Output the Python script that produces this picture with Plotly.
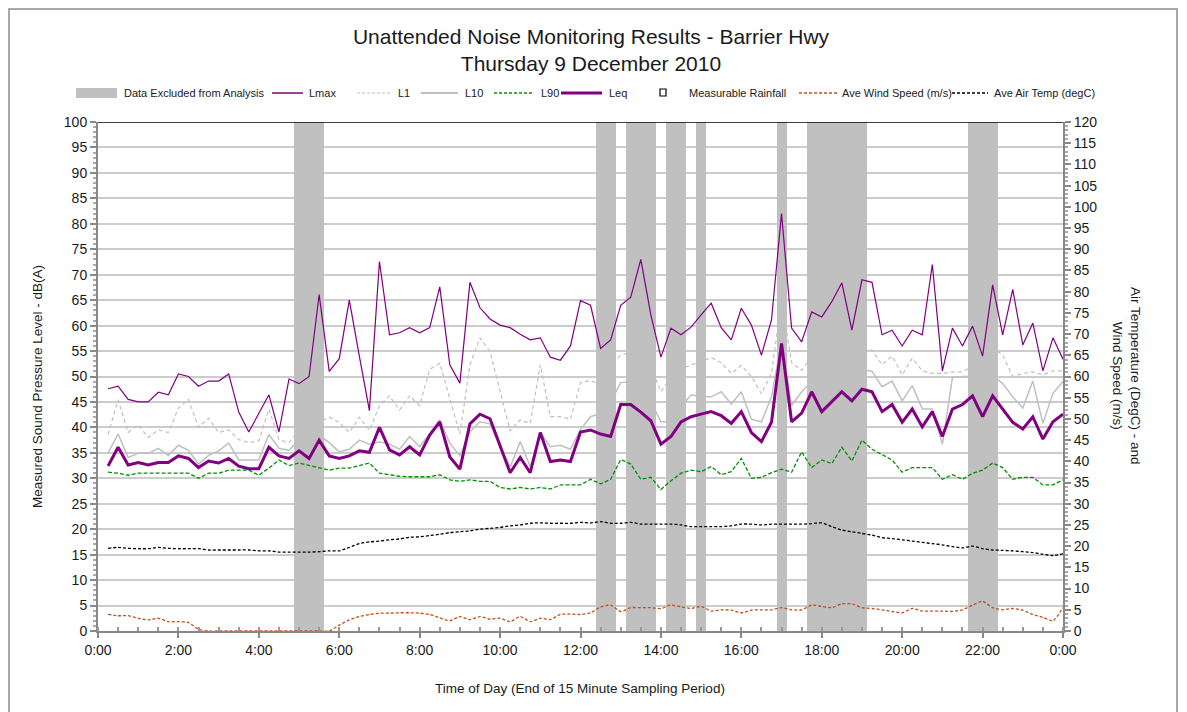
import plotly.graph_objects as go

# ---------------- data ----------------
sample_end_minutes = list(range(15, 24 * 60 + 1, 15))   # 96 x 15-min samples (end of period)

lmax = [47.6, 48.1, 45.5, 45.0, 45.0, 46.9, 46.4, 50.5, 50.0, 48.1,
        49.1, 49.1, 50.5, 43.0, 39.1, 42.8, 46.4, 39.1, 49.5, 48.6,
        50.0, 66.1, 51.0, 53.5, 65.0, 54.0, 43.3, 72.6, 58.2, 58.6,
        59.6, 58.6, 59.6, 67.6, 52.3, 48.7, 68.5, 63.5, 61.3, 60.1,
        59.6, 58.3, 57.2, 57.6, 53.8, 53.2, 56.0, 64.9, 64.0, 55.5,
        57.2, 64.0, 65.6, 73.0, 62.1, 53.8, 59.5, 58.2, 59.7, 62.1,
        64.4, 59.6, 57.2, 63.4, 60.1, 54.2, 61.1, 82.0, 59.5, 56.8,
        62.7, 61.7, 64.7, 68.4, 59.1, 69.0, 68.5, 58.2, 59.1, 56.0,
        59.1, 58.2, 72.0, 51.1, 59.5, 56.0, 59.9, 54.0, 68.0, 58.2,
        67.1, 56.2, 60.5, 51.1, 57.6, 53.4]

l1 = [38.6, 45.4, 39.0, 40.5, 38.0, 39.5, 39.0, 43.8, 45.5, 40.0,
      41.8, 39.0, 39.5, 37.6, 37.0, 37.4, 43.6, 37.6, 37.0, 39.5,
      40.0, 41.0, 42.0, 41.0, 39.0, 42.0, 39.4, 44.3, 46.2, 43.4,
      46.2, 44.3, 51.4, 52.6, 45.4, 38.7, 52.3, 57.6, 54.9, 47.0,
      39.3, 41.5, 40.8, 52.3, 42.1, 42.1, 41.6, 48.8, 49.2, 48.3,
      52.0, 54.2, 54.7, 56.0, 52.0, 47.0, 50.0, 51.5, 52.3, 53.0,
      53.7, 52.7, 50.6, 52.2, 50.0, 46.6, 50.6, 65.0, 52.7, 51.2,
      54.0, 53.0, 55.0, 56.5, 54.5, 55.5, 55.2, 52.3, 54.0, 50.3,
      53.6, 51.1, 50.6, 50.6, 50.9, 50.9, 52.0, 50.5, 55.7, 54.2,
      50.0, 50.6, 50.9, 50.3, 51.1, 51.1]

l10 = [35.0, 38.7, 34.1, 34.9, 34.9, 35.9, 34.5, 36.5, 35.5, 32.8,
       34.5, 35.4, 36.9, 33.6, 33.6, 33.6, 38.6, 35.9, 35.5, 37.6,
       36.0, 38.5, 37.0, 35.2, 35.7, 37.5, 36.7, 37.2, 36.7, 35.7,
       38.2, 36.2, 38.8, 41.5, 36.9, 34.4, 39.1, 41.1, 40.7, 36.2,
       32.2, 37.2, 32.3, 39.0, 36.2, 36.5, 35.7, 39.6, 42.1, 42.8,
       45.0, 48.8, 49.0, 47.0, 45.0, 41.1, 41.1, 44.0, 46.4, 46.0,
       46.0, 47.0, 44.6, 47.0, 41.6, 41.1, 46.0, 57.0, 44.3, 47.0,
       49.0, 48.0, 49.5, 50.5, 49.5, 51.4, 51.0, 48.0, 49.1, 45.2,
       48.2, 43.6, 43.6, 36.7, 49.8, 50.0, 50.0, 48.0, 50.3, 48.6,
       46.0, 43.8, 49.1, 40.8, 46.7, 49.0]

l90 = [31.2, 31.0, 30.6, 31.0, 31.0, 31.0, 31.0, 31.0, 31.0, 30.0,
       31.0, 31.0, 31.6, 31.6, 31.6, 30.6, 32.0, 33.6, 32.5, 33.0,
       32.5, 32.0, 31.6, 32.0, 32.0, 32.5, 33.0, 31.0, 30.7, 30.4,
       30.3, 30.3, 30.3, 30.7, 29.7, 29.4, 29.7, 29.4, 29.4, 28.2,
       27.9, 28.2, 27.9, 28.2, 27.9, 28.7, 28.7, 28.7, 29.8, 28.9,
       29.8, 33.7, 32.8, 29.8, 30.2, 27.8, 29.5, 31.0, 31.6, 31.3,
       32.3, 30.7, 31.3, 33.9, 30.0, 30.2, 31.1, 31.8, 31.2, 35.2,
       32.1, 33.6, 32.9, 36.1, 33.4, 37.5, 35.7, 34.7, 33.6, 31.2,
       32.1, 32.1, 32.1, 29.8, 30.7, 29.8, 31.0, 31.6, 33.0, 32.1,
       29.8, 30.2, 30.2, 28.7, 28.7, 29.7]

leq = [32.4, 36.1, 32.6, 33.1, 32.6, 33.1, 33.1, 34.4, 33.9, 32.1,
       33.4, 33.0, 33.9, 32.4, 31.9, 31.9, 36.1, 34.4, 33.9, 35.4,
       33.9, 37.5, 34.4, 33.9, 34.4, 35.4, 35.1, 40.0, 35.6, 34.6,
       36.2, 34.6, 38.5, 41.1, 34.2, 31.8, 40.7, 42.6, 41.7, 36.4,
       31.1, 34.1, 31.1, 39.0, 33.3, 33.6, 33.3, 39.1, 39.5, 38.7,
       38.2, 44.5, 44.5, 43.0, 41.3, 36.7, 38.2, 41.1, 42.1, 42.6,
       43.1, 42.3, 40.8, 43.1, 39.0, 37.2, 41.0, 56.5, 41.1, 42.8,
       47.0, 43.1, 45.0, 47.0, 45.2, 47.5, 47.0, 43.1, 44.5, 41.0,
       43.6, 40.1, 43.1, 38.2, 43.6, 44.5, 46.2, 42.1, 46.2, 43.6,
       41.0, 39.7, 42.1, 37.7, 41.1, 42.6]

wind_speed = [3.9, 3.6, 3.6, 3.0, 2.6, 3.0, 2.2, 2.2, 2.0, 0.4,
              0.0, 0.0, 0.0, 0.0, 0.0, 0.0, 0.0, 0.0, 0.0, 0.0,
              0.0, 0.0, 0.0, 1.4, 2.6, 3.4, 3.9, 4.2, 4.2, 4.3,
              4.3, 4.2, 3.9, 3.1, 2.4, 3.4, 2.7, 3.4, 2.8, 3.0,
              2.2, 3.4, 2.2, 3.0, 2.7, 3.9, 4.0, 3.9, 4.3, 5.7,
              6.1, 4.6, 5.5, 5.5, 5.5, 5.3, 6.1, 5.7, 5.3, 5.8,
              4.7, 5.0, 4.9, 4.3, 4.9, 5.0, 5.0, 5.5, 5.0, 5.0,
              6.1, 5.8, 5.5, 6.4, 6.4, 5.5, 5.3, 5.0, 4.6, 4.3,
              5.3, 4.7, 4.7, 4.7, 4.6, 5.0, 6.1, 7.0, 5.5, 5.0,
              5.3, 4.9, 3.9, 3.2, 2.4, 5.5]

air_temp = [19.5, 19.7, 19.5, 19.4, 19.4, 19.7, 19.5, 19.4, 19.4, 19.4,
            19.1, 19.1, 19.1, 19.1, 19.1, 18.9, 18.9, 18.6, 18.6, 18.6,
            18.6, 18.7, 18.9, 18.9, 19.7, 20.6, 21.0, 21.2, 21.5, 21.7,
            22.1, 22.2, 22.5, 22.8, 23.2, 23.4, 23.6, 24.0, 24.2, 24.4,
            24.8, 25.0, 25.4, 25.5, 25.4, 25.4, 25.4, 25.6, 25.5, 25.8,
            25.4, 25.4, 25.6, 25.2, 25.2, 25.2, 25.2, 25.0, 24.6, 24.6,
            24.6, 24.6, 24.8, 25.2, 25.2, 25.0, 25.2, 25.2, 25.2, 25.2,
            25.3, 25.5, 24.6, 23.8, 23.4, 23.0, 22.6, 22.0, 21.8, 21.5,
            21.2, 20.9, 20.6, 20.3, 19.9, 19.6, 20.0, 19.4, 19.1, 19.0,
            18.9, 18.7, 18.5, 18.1, 17.8, 18.2]

rainfall_samples = []   # no measurable rainfall recorded

excluded_samples = ["5:00", "5:15", "5:30",
                    "12:30", "12:45",
                    "13:15", "13:30", "13:45",
                    "14:15", "14:30",
                    "15:00",
                    "17:00",
                    "17:45", "18:00", "18:15", "18:30", "18:45", "19:00",
                    "21:45", "22:00", "22:15"]

x_tick_hours = [0, 2, 4, 6, 8, 10, 12, 14, 16, 18, 20, 22, 24]
x_tick_labels = ["0:00", "2:00", "4:00", "6:00", "8:00", "10:00", "12:00",
                 "14:00", "16:00", "18:00", "20:00", "22:00", "0:00"]

title_text = "Unattended Noise Monitoring Results - Barrier Hwy<br>Thursday 9 December 2010"
y_title = "Measured Sound Pressure Level - dB(A)"
y2_title = "Air Temperature (DegC) - and<br>Wind Speed (m/s)"
x_title = "Time of Day (End of 15 Minute Sampling Period)"

# ---------------- helpers ----------------
x_hours = [m / 60.0 for m in sample_end_minutes]


def hhmm_to_hours(s):
    h, m = s.split(":")
    return int(h) + int(m) / 60.0


excl_hours = [hhmm_to_hours(s) for s in excluded_samples]

W, H = 1187, 712
OFF = 8                      # page offset of the figure inside the browser window
L, T = 90, 114
PW, PH = 965, 509
R = W - L - PW
B = H - T - PH


def px(xp):
    """screen x pixel -> paper x"""
    return (xp - OFF - L) / PW


def py(yp):
    """screen y pixel -> paper y"""
    return (T + PH - (yp - OFF)) / PH


FONT = "Liberation Sans, Arial, sans-serif"
PURPLE = "#800080"
GREY = "#c0c0c0"
GREEN = "#009000"
ORANGE = "#c0501a"

fig = go.Figure()

# excluded periods (grey columns)
fig.add_trace(go.Bar(x=excl_hours, y=[100] * len(excl_hours), width=0.25,
                     marker=dict(color=GREY, line=dict(width=0)),
                     name="Data Excluded from Analysis", showlegend=False,
                     hoverinfo="skip"))

fig.add_trace(go.Scatter(x=x_hours, y=l90, mode="lines", name="L90",
                         line=dict(color=GREEN, width=1.3, dash="4px,2px"), showlegend=False))
fig.add_trace(go.Scatter(x=x_hours, y=l10, mode="lines", name="L10",
                         line=dict(color=GREY, width=1.5), showlegend=False))
fig.add_trace(go.Scatter(x=x_hours, y=l1, mode="lines", name="L1",
                         line=dict(color=GREY, width=1.2, dash="4px,3px"), showlegend=False))
fig.add_trace(go.Scatter(x=x_hours, y=lmax, mode="lines", name="Lmax",
                         line=dict(color=PURPLE, width=1.2), showlegend=False))
fig.add_trace(go.Scatter(x=x_hours, y=leq, mode="lines", name="Leq",
                         line=dict(color=PURPLE, width=3), showlegend=False))
fig.add_trace(go.Scatter(x=[hhmm_to_hours(s) for s in rainfall_samples],
                         y=[0] * len(rainfall_samples), mode="markers",
                         name="Measurable Rainfall", yaxis="y2",
                         marker=dict(symbol="square-open", color="black", size=6),
                         showlegend=False))
fig.add_trace(go.Scatter(x=x_hours, y=wind_speed, mode="lines", name="Ave Wind Speed (m/s)",
                         yaxis="y2", line=dict(color=ORANGE, width=1.3, dash="3px,2px",
                                               shape="spline", smoothing=0.6),
                         showlegend=False))
fig.add_trace(go.Scatter(x=x_hours, y=air_temp, mode="lines", name="Ave Air Temp (degC)",
                         yaxis="y2", line=dict(color="black", width=1.3, dash="3px,2px",
                                               shape="spline", smoothing=0.6),
                         showlegend=False))

fig.update_layout(
    width=W, height=H,
    margin=dict(l=L, r=R, t=T, b=B, autoexpand=False),
    paper_bgcolor="white", plot_bgcolor="white",
    font=dict(family=FONT, color="#1a1a1a"),
    showlegend=False,
    bargap=0,
    title=dict(text=title_text, x=px(591), xanchor="center", xref="paper",
               y=1 - (43.5 - OFF) / H, yanchor="middle", yref="container",
               font=dict(family=FONT, size=21, color="#1a1a1a")),
    xaxis=dict(range=[0, 24], tickmode="array", tickvals=x_tick_hours, ticktext=x_tick_labels,
               showgrid=False, zeroline=False, showline=True, linecolor="#888888", linewidth=2,
               ticks="outside", ticklen=5, tickcolor="#888888", tickwidth=1.5,
               tickfont=dict(size=14, family=FONT, color="#1a1a1a"),
               minor=dict(dtick=0.5, ticks="inside", ticklen=4, tickcolor="#999999", showgrid=False)),
    yaxis=dict(range=[0, 100], dtick=5, showgrid=True, gridcolor="#cccccc", gridwidth=1.5,
               zeroline=False, showline=True, linecolor="#888888", linewidth=2,
               ticks="outside", ticklen=6, tickcolor="#888888", tickwidth=1.5,
               tickfont=dict(size=14, family=FONT, color="#1a1a1a"),
               minor=dict(dtick=1, ticks="outside", ticklen=3, tickcolor="#aaaaaa", showgrid=False)),
    yaxis2=dict(range=[0, 120], dtick=5, overlaying="y", side="right", showgrid=False,
                zeroline=False, showline=True, linecolor="#888888", linewidth=2,
                ticks="outside", ticklen=6, tickcolor="#888888", tickwidth=1.5,
                tickfont=dict(size=14, family=FONT, color="#1a1a1a"),
                minor=dict(dtick=1, ticks="outside", ticklen=3, tickcolor="#aaaaaa", showgrid=False)),
)

shapes = []
# top border line of plot at 100
shapes.append(dict(type="line", xref="paper", yref="y", x0=0, x1=1, y0=100, y1=100,
                   line=dict(color="black", width=1.5)))
# outer chart border
shapes.append(dict(type="rect", xref="paper", yref="paper",
                   x0=px(OFF + 1), x1=px(1177), y0=py(OFF + 1), y1=py(740),
                   line=dict(color="#8c8c8c", width=1.5), fillcolor="rgba(0,0,0,0)", layer="below"))

annotations = []
# axis titles
annotations.append(dict(text=y_title, xref="paper", yref="paper", x=px(37), y=py(387),
                        textangle=-90, showarrow=False, font=dict(size=13.5, family=FONT, color="#1a1a1a"),
                        xanchor="center", yanchor="middle"))
annotations.append(dict(text=y2_title, xref="paper", yref="paper", x=px(1127), y=py(376),
                        textangle=90, showarrow=False, font=dict(size=13.5, family=FONT, color="#1a1a1a"),
                        xanchor="center", yanchor="middle"))
annotations.append(dict(text=x_title, xref="paper", yref="paper", x=px(580), y=py(688),
                        showarrow=False, font=dict(size=13.5, family=FONT, color="#1a1a1a"),
                        xanchor="center", yanchor="middle"))

# manual legend
LY = 93
legend_items = [
    ("rect", 76, 117, "Data Excluded from Analysis", 122, dict(color=GREY)),
    ("line", 272, 303, "Lmax", 307, dict(color=PURPLE, width=1.5)),
    ("line", 357, 390, "L1", 396, dict(color=GREY, width=1.2, dash="3px,2px")),
    ("line", 421, 458, "L10", 463, dict(color=GREY, width=2)),
    ("line", 494, 533, "L90", 539, dict(color=GREEN, width=1.5, dash="3px,2px")),
    ("line", 561, 602, "Leq", 607, dict(color=PURPLE, width=3)),
    ("marker", 660, 666, "Measurable Rainfall", 687, dict(color="black")),
    ("line", 799, 837, "Ave Wind Speed (m/s)", 840, dict(color=ORANGE, width=1.5, dash="3px,2px")),
    ("line", 952, 988, "Ave Air Temp (degC)", 992, dict(color="black", width=1.5, dash="3px,2px")),
]
for kind, a, b, label, tx, st in legend_items:
    if kind == "rect":
        shapes.append(dict(type="rect", xref="paper", yref="paper", x0=px(a), x1=px(b),
                           y0=py(LY + 5), y1=py(LY - 5), fillcolor=st["color"], line=dict(width=0)))
    elif kind == "marker":
        shapes.append(dict(type="rect", xref="paper", yref="paper", x0=px(a), x1=px(b),
                           y0=py(LY + 3), y1=py(LY - 4), fillcolor="white",
                           line=dict(color=st["color"], width=1.2)))
    else:
        shapes.append(dict(type="line", xref="paper", yref="paper", x0=px(a), x1=px(b),
                           y0=py(LY), y1=py(LY), line=st))
    annotations.append(dict(text=label, xref="paper", yref="paper", x=px(tx), y=py(LY),
                            xanchor="left", yanchor="middle", showarrow=False,
                            font=dict(size=11, family=FONT, color="#1a1a1a")))

fig.update_layout(shapes=shapes, annotations=annotations)

fig.write_html("out.html")
